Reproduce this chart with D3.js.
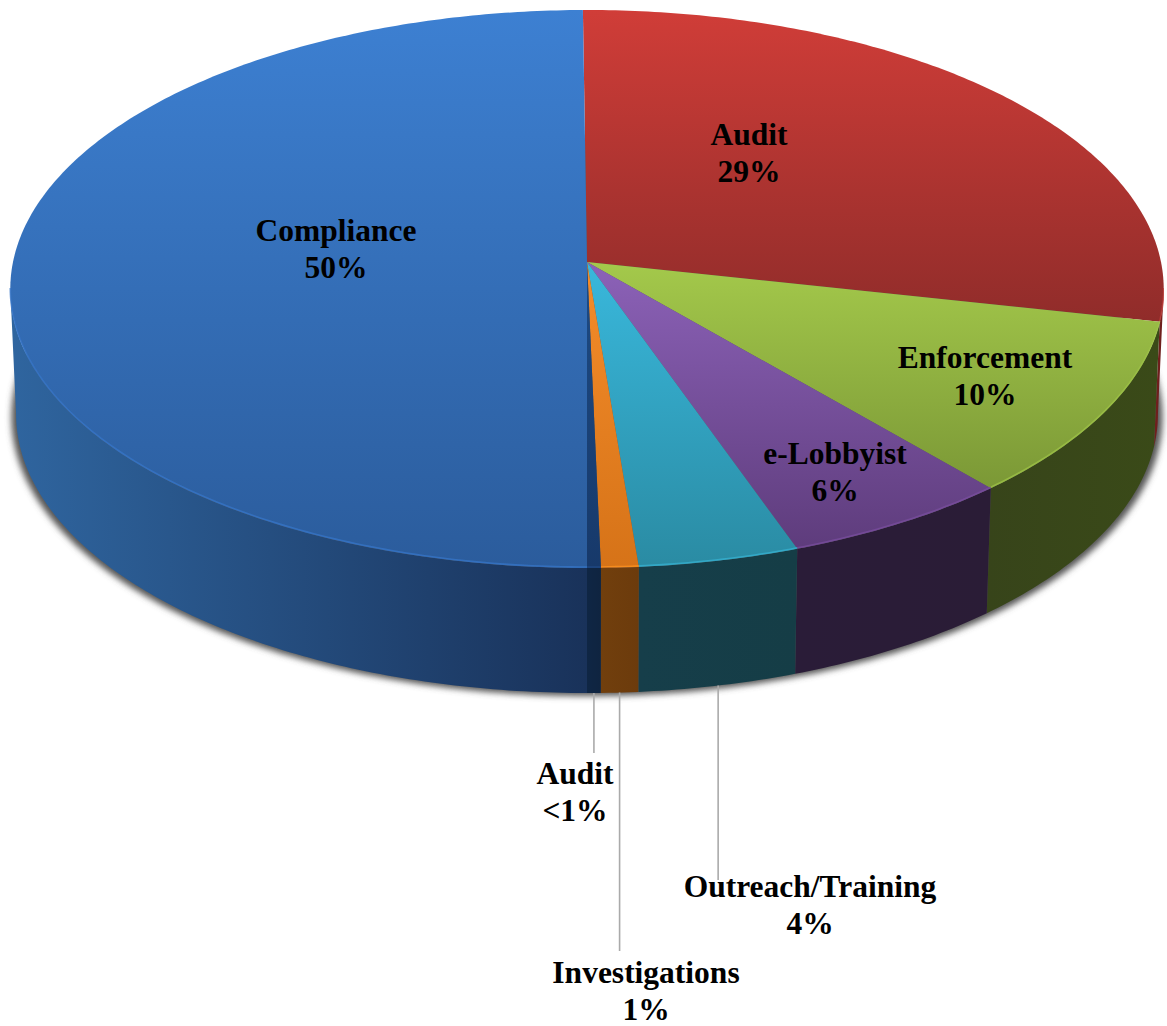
<!DOCTYPE html>
<html>
<head>
<meta charset="utf-8">
<script src="https://cdn.jsdelivr.net/npm/d3@7"></script>
<style>
  html, body { margin: 0; padding: 0; background: #fff; }
  svg { display: block; }
  text { font-family: "Liberation Serif", serif; font-weight: bold; font-size: 31.5px; fill: #000; }
</style>
</head>
<body>
<svg width="1167" height="1026"></svg>
<script>
var categories = ["Audit", "Enforcement", "e-Lobbyist", "Outreach/Training", "Investigations", "Audit", "Compliance"];
var shares = [28.525, 10.3, 5.9, 4.1, 0.95, 0.35, 49.875];
var shareLabels = ["29%", "10%", "6%", "4%", "1%", "<1%", "50%"];

// face colours, top to bottom of each slice
var faceTop = ["#d03d38", "#a4c94b", "#8c62b8", "#39b8dc", "#f48c2a", "#1d4b85", "#3d80d2"];
var faceBottom = ["#902c2a", "#7b9836", "#5e3c7c", "#2a8ba3", "#d67318", "#17396a", "#2b5c9c"];
// side wall colours, left to right
var wallLeft = ["#6f1f1d", "#37441a", "#2a1c38", "#163e4a", "#713f0d", "#0f2644", "#2f659f"];
var wallRight = ["#6f1f1d", "#3a4a18", "#2a1c36", "#153d46", "#6c3b0c", "#0f2440", "#19325a"];

var svg = d3.select("svg");
var defs = svg.append("defs");

// pie geometry: a tilted disc seen in perspective
var cx = 587, apexY = 262, radiusX = 574, radiusY = 276.4, persp = 0.0968;
var depth = 125, bottomScale = 0.99;
var turn = 2 * Math.PI;
var startAngle = -0.00125 * turn;
// the side of the disc is only seen between these two angles
var wallFrom = Math.PI / 2 + persp, wallTo = 1.5 * Math.PI - persp;

function topPoint(a) {
    var u = Math.sin(a), v = Math.cos(a), w = 1 + persp * v;
    return [cx + radiusX * u / w, apexY - radiusY * v / w];
}
function bottomPoint(a) {
    var p = topPoint(a);
    return [cx + (p[0] - cx) * bottomScale, p[1] + depth];
}
function sample(a0, a1) {
    var n = Math.max(2, Math.ceil(Math.abs(a1 - a0) * 80));
    return d3.range(n + 1).map(function (i) { return a0 + (a1 - a0) * i / n; });
}

var line = d3.line();
var arcs = d3.pie().sort(null).startAngle(startAngle).endAngle(startAngle + turn)(shares);

var blur = defs.append("filter").attr("id", "shadowBlur")
    .attr("x", "-5%").attr("y", "-5%").attr("width", "110%").attr("height", "110%");
blur.append("feGaussianBlur").attr("stdDeviation", 3);
var soft = defs.append("filter").attr("id", "rimBlur")
    .attr("x", "-5%").attr("y", "-5%").attr("width", "110%").attr("height", "110%");
soft.append("feGaussianBlur").attr("stdDeviation", 0.7);

arcs.forEach(function (d, i) {
    var f = defs.append("linearGradient").attr("id", "face" + i)
        .attr("x1", 0).attr("y1", 0).attr("x2", 0).attr("y2", 1);
    f.append("stop").attr("offset", 0).attr("stop-color", faceTop[i]);
    f.append("stop").attr("offset", 1).attr("stop-color", faceBottom[i]);
    var w = defs.append("linearGradient").attr("id", "wall" + i)
        .attr("x1", 0).attr("y1", 0).attr("x2", 1).attr("y2", 0);
    w.append("stop").attr("offset", 0).attr("stop-color", wallLeft[i]);
    w.append("stop").attr("offset", 1).attr("stop-color", wallRight[i]);
});

// soft shadow under the disc
svg.append("path")
    .attr("d", line(sample(0, turn).map(function (a) {
        var p = bottomPoint(a);
        return [cx + (p[0] - cx) * 1.008, p[1] + 3];
    })) + "Z")
    .attr("fill", "#555")
    .attr("filter", "url(#shadowBlur)");

// side walls
svg.append("g").selectAll("path")
    .data(arcs.filter(function (d) { return d.endAngle > wallFrom && d.startAngle < wallTo; }))
    .enter().append("path")
    .attr("fill", function (d) { return "url(#wall" + d.index + ")"; })
    .attr("d", function (d) {
        var as = sample(Math.max(d.startAngle, wallFrom), Math.min(d.endAngle, wallTo));
        return line(as.map(topPoint).concat(as.reverse().map(bottomPoint))) + "Z";
    });

// top faces
svg.append("g").selectAll("path")
    .data(arcs)
    .enter().append("path")
    .attr("fill", function (d) { return "url(#face" + d.index + ")"; })
    .attr("d", function (d) {
        return line([[cx, apexY]].concat(sample(d.startAngle, d.endAngle).map(topPoint))) + "Z";
    });

// light bevel along the front edge
svg.append("g").selectAll("path")
    .data(arcs.filter(function (d) { return d.endAngle > wallFrom && d.startAngle < wallTo; }))
    .enter().append("path")
    .attr("fill", "none")
    .attr("stroke", function (d) { return d3.color(faceBottom[d.index]).brighter(0.7); })
    .attr("stroke-width", 1.6)
    .attr("stroke-opacity", 0.75)
    .attr("filter", "url(#rimBlur)")
    .attr("d", function (d) {
        var as = sample(Math.max(d.startAngle, wallFrom), Math.min(d.endAngle, wallTo));
        return line(as.map(function (a) { var p = topPoint(a); return [p[0], p[1] - 1]; }));
    });

// label layout by slice index: centre x, first baseline, end of leader line
var labelX = [749, 985, 835, 810, 646, 575, 336];
var labelY = [145, 368, 464, 897, 983, 784, 241];
var leaderEnd = [null, null, null, 880, 951, 753, null];

svg.append("g").selectAll("line")
    .data(arcs.filter(function (d) { return leaderEnd[d.index] !== null; }))
    .enter().append("line")
    .attr("x1", function (d) { return bottomPoint((d.startAngle + d.endAngle) / 2)[0]; })
    .attr("x2", function (d) { return bottomPoint((d.startAngle + d.endAngle) / 2)[0]; })
    .attr("y1", function (d) { return bottomPoint((d.startAngle + d.endAngle) / 2)[1]; })
    .attr("y2", function (d) { return leaderEnd[d.index]; })
    .attr("stroke", "#aaaaaa")
    .attr("stroke-width", 1.6);

var labels = svg.append("g").selectAll("text")
    .data(arcs)
    .enter().append("text")
    .attr("text-anchor", "middle")
    .attr("x", function (d) { return labelX[d.index]; })
    .attr("y", function (d) { return labelY[d.index]; });
labels.append("tspan")
    .attr("x", function (d) { return labelX[d.index]; })
    .text(function (d) { return categories[d.index]; });
labels.append("tspan")
    .attr("x", function (d) { return labelX[d.index]; })
    .attr("dy", 37)
    .text(function (d) { return shareLabels[d.index]; });
</script>
</body>
</html>
